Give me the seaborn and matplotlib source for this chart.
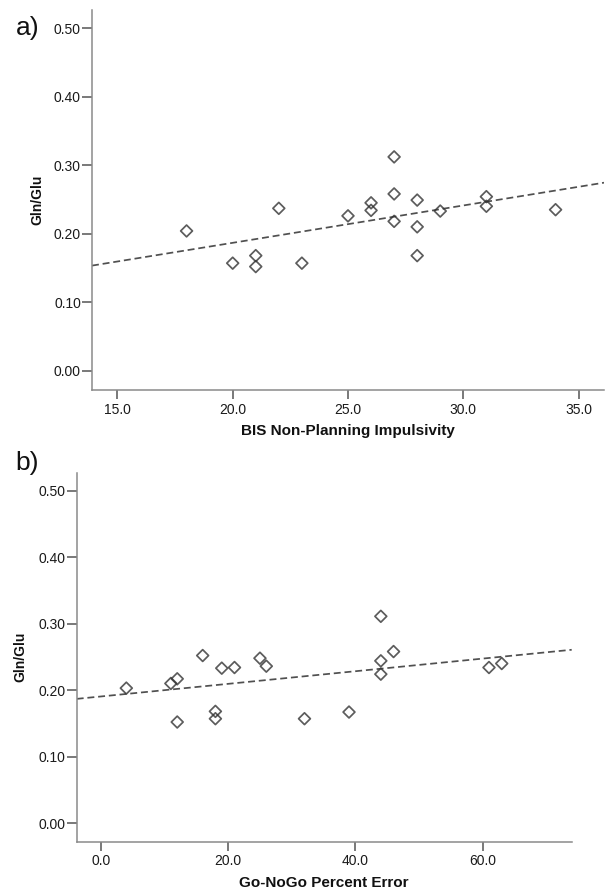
import numpy as np
import pandas as pd
import matplotlib
matplotlib.use("Agg")
import matplotlib.pyplot as plt
import seaborn as sns

# Panel a: BIS non-planning impulsivity vs Gln/Glu
bis_score = [18, 20, 21, 21, 22, 23, 25, 26, 26, 27, 27, 27, 28, 28, 28, 29, 31, 31, 34]
gln_glu_a = [0.204, 0.157, 0.168, 0.152, 0.237, 0.157, 0.226, 0.245, 0.234, 0.312,
             0.258, 0.218, 0.249, 0.210, 0.168, 0.233, 0.254, 0.240, 0.235]

# Panel b: Go-NoGo percent error vs Gln/Glu
gonogo_err = [4, 11, 12, 12, 16, 18, 18, 19, 21, 25, 26, 32, 39, 44, 44, 44, 46, 61, 63]
gln_glu_b = [0.203, 0.210, 0.217, 0.152, 0.252, 0.168, 0.157, 0.233, 0.234, 0.248,
             0.236, 0.157, 0.167, 0.311, 0.244, 0.224, 0.258, 0.234, 0.240]

y_ticks = [0.0, 0.1, 0.2, 0.3, 0.4, 0.5]
x_ticks_a = [15, 20, 25, 30, 35]
x_ticks_b = [0, 20, 40, 60]

sns.set_theme(style="ticks")
plt.rcParams["font.family"] = ["Liberation Sans", "DejaVu Sans"]

fig = plt.figure(figsize=(6.06, 8.93), dpi=100)
ax_a = fig.add_axes([92 / 606, 1 - 390 / 893, 512 / 606, 380.5 / 893])
ax_b = fig.add_axes([76.7 / 606, 1 - 841.7 / 893, 495 / 606, 369 / 893])

spine_col = "#8a8a8a"
tick_col = "#555555"
mark_col = "#333333"


def draw_panel(ax, x, y, xlim, xticks, xlabel, ylabel_x):
    ax.set_xlim(*xlim)
    ax.set_ylim(-0.028, 0.527)
    df = pd.DataFrame({"x": x, "y": y})
    sns.regplot(
        data=df, x="x", y="y", ax=ax, ci=None, truncate=False,
        marker="D",
        scatter_kws=dict(s=36, facecolors="none", edgecolors=mark_col,
                         linewidths=1.25, zorder=3),
        line_kws=dict(color="#505050", lw=1.25, ls=(0, (4, 2.2)), zorder=2),
    )
    ax.set_xlim(*xlim)
    ax.set_ylim(-0.028, 0.527)
    ax.set_xticks(xticks)
    ax.set_xticklabels([f"{v:.1f}" for v in xticks])
    ax.set_yticks(y_ticks)
    ax.set_yticklabels([f"{v:.2f}" for v in y_ticks])
    for side in ("top", "right"):
        ax.spines[side].set_visible(False)
    for side in ("left", "bottom"):
        ax.spines[side].set_color(spine_col)
        ax.spines[side].set_linewidth(1.1)
    ax.tick_params(axis="y", length=7.5, width=1.1, color=tick_col, pad=0.5,
                   labelsize=10, labelcolor="#1a1a1a")
    ax.tick_params(axis="x", length=6.5, width=1.1, color=tick_col, pad=2.5,
                   labelsize=10, labelcolor="#1a1a1a")
    ax.set_xlabel(xlabel, fontsize=11, fontweight="bold", labelpad=5.5,
                  color="#111111")
    ax.set_ylabel("Gln/Glu", fontsize=10, fontweight="bold", color="#111111")
    ax.yaxis.set_label_coords(ylabel_x, 0.5)
    ax.set_facecolor("white")


draw_panel(ax_a, bis_score, gln_glu_a, (13.9, 36.1), x_ticks_a,
           "BIS Non-Planning Impulsivity", -0.093)
draw_panel(ax_b, gonogo_err, gln_glu_b, (-3.8, 74.0), x_ticks_b,
           "Go-NoGo Percent Error", -0.100)

fig.text(16 / 606, 1 - 28 / 893, "a)", fontsize=19, va="center", ha="left",
         color="#111111")
fig.text(15 / 606, 1 - 463 / 893, "b)", fontsize=19, va="center", ha="left",
         color="#111111")

fig.savefig("out.png", dpi=100, facecolor="white")
